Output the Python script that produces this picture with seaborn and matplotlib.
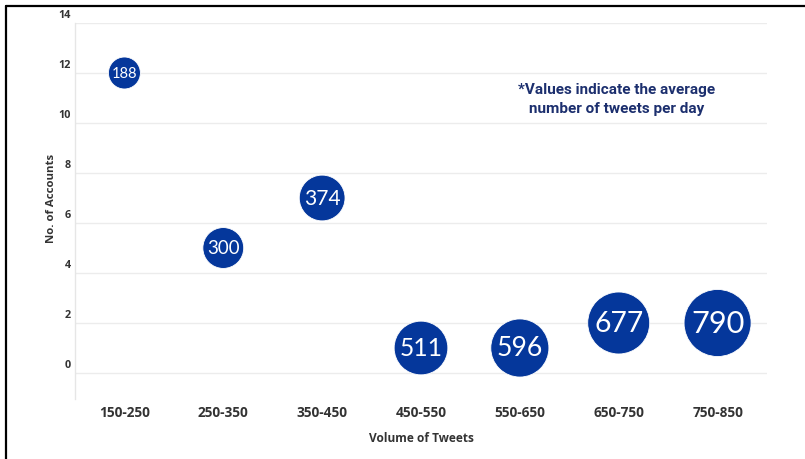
import matplotlib
matplotlib.use("Agg")
import matplotlib.pyplot as plt
import matplotlib.transforms as mtransforms
from matplotlib.lines import Line2D
import numpy as np
import pandas as pd
import seaborn as sns

# data
ranges = ["150-250", "250-350", "350-450", "450-550", "550-650", "650-750", "750-850"]
accounts = [12, 5, 7, 1, 1, 2, 2]
avg_tweets = [188, 300, 374, 511, 596, 677, 790]
yticks = [0, 2, 4, 6, 8, 10, 12, 14]

df = pd.DataFrame({"range": ranges, "accounts": accounts, "avg": avg_tweets})

sns.set_theme(style="white")
plt.rcParams["font.family"] = ["Open Sans", "DejaVu Sans"]

blue = "#05379b"
ink = "#333333"
size_rng = (530, 2330)
size_norm = (min(avg_tweets), max(avg_tweets))

fig = plt.figure(figsize=(8.05, 4.6), dpi=100)
ax = fig.add_axes([75 / 805, 1 - 400 / 460, 692 / 805, 376 / 460])

sns.scatterplot(data=df, x="range", y="accounts", size="avg", sizes=size_rng,
                size_norm=size_norm, color=blue, edgecolor="white", linewidth=0.6,
                legend=False, ax=ax, zorder=3, alpha=1)

# labels inside bubbles, font scaled with bubble diameter
for i, row in df.iterrows():
    s = size_rng[0] + (row["avg"] - size_norm[0]) / (size_norm[1] - size_norm[0]) * (size_rng[1] - size_rng[0])
    d_px = np.sqrt(s) / 0.72
    ax.text(i, row["accounts"], str(row["avg"]), color="white", ha="center", va="center",
            fontsize=0.33 * d_px, zorder=4, family=["Lato", "DejaVu Sans"])

ax.set_xlim(-0.5, 6.5)
ax.set_ylim(-1.04, 14)
ax.set_yticks(yticks)
ax.grid(axis="y", color="#ececec", linewidth=1)
for sp in ["top", "right", "bottom"]:
    ax.spines[sp].set_visible(False)
ax.spines["left"].set_color("#e6e6e6")
ax.spines["left"].set_linewidth(1)

ax.tick_params(axis="x", direction="in", length=5, color="#eeeeee", pad=4,
               labelsize=9.8, labelcolor=ink)
ax.tick_params(axis="y", length=0, pad=3, labelsize=7.8, labelcolor=ink)
for lab in ax.get_xticklabels() + ax.get_yticklabels():
    lab.set_fontweight("bold")
offset = mtransforms.ScaledTranslation(0, 7 / 72, fig.dpi_scale_trans)
for lab in ax.get_yticklabels():
    lab.set_transform(lab.get_transform() + offset)

ax.set_xlabel("Volume of Tweets", fontsize=8.6, fontweight="bold", color=ink, labelpad=9)
ax.set_ylabel("No. of Accounts", fontsize=8.2, fontweight="bold", color=ink)
ax.yaxis.set_label_coords(-0.026, 0.535)

note_font = dict(ha="center", va="center", fontsize=11, fontweight="bold",
                 color="#1c2f6e", family=["Roboto", "DejaVu Sans"])
fig.text(617 / 805, 1 - 90 / 460, "*Values indicate the average", **note_font)
fig.text(617 / 805, 1 - 109 / 460, "number of tweets per day", **note_font)

# frame lines on left and top
fig.add_artist(Line2D([6 / 805, 6 / 805], [0, 1 - 7 / 460], transform=fig.transFigure,
                      color="black", linewidth=1.6))
fig.add_artist(Line2D([6 / 805, 1], [1 - 7 / 460, 1 - 7 / 460], transform=fig.transFigure,
                      color="black", linewidth=1.6))

fig.savefig("out.png", dpi=100)
